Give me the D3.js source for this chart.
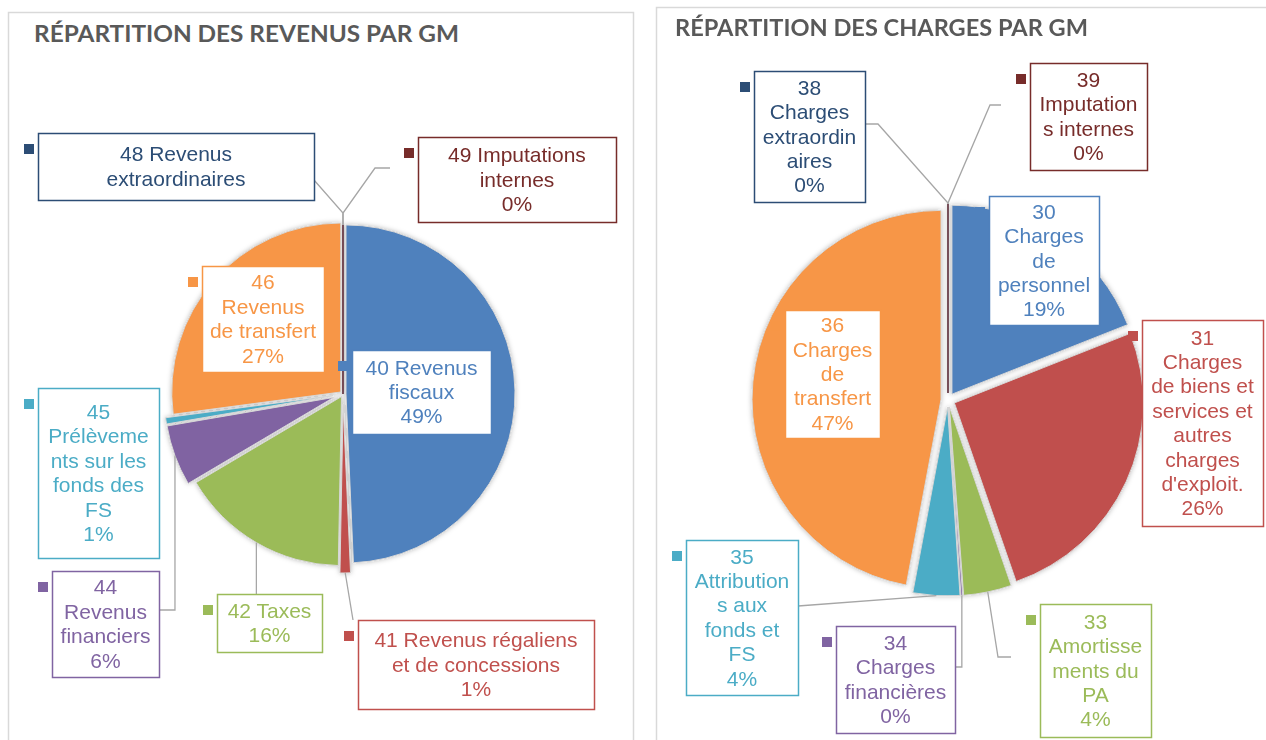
<!DOCTYPE html>
<html>
<head>
<meta charset="utf-8">
<script src="https://cdn.jsdelivr.net/npm/d3@7"></script>
<style>
  html, body { margin: 0; padding: 0; background: #fff; }
  svg { display: block; }
</style>
</head>
<body>
<svg id="chart" width="1266" height="740"></svg>
<script>
// --- data: revenus par groupe de matières ---
const revenueCodes = ['40', '41', '42', '44', '45', '46', '48', '49'];
const revenueNames = ['Revenus fiscaux', 'Revenus régaliens et de concessions', 'Taxes',
  'Revenus financiers', 'Prélèvements sur les fonds des FS', 'Revenus de transfert',
  'Revenus extraordinaires', 'Imputations internes'];
const revenueValues = [49.3, 1.0, 16.2, 5.8, 0.6, 27.1, 0, 0];

// --- data: charges par groupe de matières ---
const chargeCodes = ['30', '31', '33', '34', '35', '36', '38', '39'];
const chargeNames = ['Charges de personnel', "Charges de biens et services et autres charges d'exploit.",
  'Amortissements du PA', 'Charges financières', 'Attributions aux fonds et FS',
  'Charges de transfert', 'Charges extraordinaires', 'Imputations internes'];
const chargeValues = [19.0, 25.7, 4.1, 0.15, 4.0, 47.05, 0, 0];

const titles = ['RÉPARTITION DES REVENUS PAR GM', 'RÉPARTITION DES CHARGES PAR GM'];

// office 2010 palette, same order for both charts
const palette = ['#4f81bd', '#c0504d', '#9bbb59', '#8064a2', '#4bacc6', '#f79646', '#2c4d75', '#772c2a'];

// label layout (wrapped lines, box, leader elbows); null x = x of the slice anchor
const revenueLabels = [
  {lines: ['40 Revenus', 'fiscaux'], box: [352, 350, 139, 84], explode: 3},
  {lines: ['41 Revenus régaliens', 'et de concessions'], box: [358, 620, 236, 89], explode: 10, leader: [[353, 620]]},
  {lines: ['42 Taxes'], box: [217, 594, 105, 58], explode: 3, leader: [[null, 594]]},
  {lines: ['44', 'Revenus', 'financiers'], box: [52, 571, 107, 106], explode: 10, leader: [[160, 610], [null, 610]]},
  {lines: ['45', 'Prélèveme', 'nts sur les', 'fonds des', 'FS'], box: [38, 388, 121, 170], explode: 10},
  {lines: ['46', 'Revenus', 'de transfert'], box: [202, 266, 122, 106], explode: 3},
  {lines: ['48 Revenus', 'extraordinaires'], box: [38, 133, 276, 67], explode: 0, noPct: true, leader: [[314, 180], [null, 213]]},
  {lines: ['49 Imputations', 'internes'], box: [418, 137, 198, 85], explode: 0, leader: [[390, 168], [375, 168], [null, 213]]}
];

const chargeLabels = [
  {lines: ['30', 'Charges', 'de', 'personnel'], box: [989, 196, 110, 129], explode: 7},
  {lines: ['31', 'Charges', 'de biens et', 'services et', 'autres', 'charges', "d'exploit."], box: [1142, 320, 121, 206], explode: 7},
  {lines: ['33', 'Amortisse', 'ments du', 'PA'], box: [1040, 604, 111, 133], explode: 7, leader: [[1011, 657], [998, 657]]},
  {lines: ['34', 'Charges', 'financières'], box: [836, 626, 119, 107], explode: 7, leader: [[955, 667], [null, 667]]},
  {lines: ['35', 'Attribution', 's aux', 'fonds et', 'FS'], box: [686, 540, 112, 155], explode: 7, leader: [[798, 606]]},
  {lines: ['36', 'Charges', 'de', 'transfert'], box: [785, 310, 95, 128], explode: 7},
  {lines: ['38', 'Charges', 'extraordin', 'aires'], box: [754, 71, 111, 131], explode: 7, leader: [[866, 124], [878, 124], [null, 203]]},
  {lines: ['39', 'Imputation', 's internes'], box: [1030, 63, 117, 107], explode: 7, leader: [[1001, 105], [990, 105], [null, 203]]}
];

const svg = d3.select('#chart');

const defs = svg.append('defs');
defs.append('filter')
    .attr('id', 'shadow')
    .attr('x', '-20%').attr('y', '-20%').attr('width', '140%').attr('height', '140%')
  .append('feDropShadow')
    .attr('dx', 0).attr('dy', 0)
    .attr('stdDeviation', 2.5)
    .attr('flood-color', '#000')
    .attr('flood-opacity', 0.28);

const fontText = '"Liberation Sans", Arial, sans-serif';
const lineH = 24.4;

function drawPie(cfg) {
  const {panel, title, titlePos, titleLen, cx, cy, r, values, labels} = cfg;

  svg.append('rect')
      .attr('x', panel[0]).attr('y', panel[1])
      .attr('width', panel[2]).attr('height', panel[3])
      .attr('fill', '#fff')
      .attr('stroke', '#d9d9d9')
      .attr('stroke-width', 1.5);

  svg.append('text')
      .attr('x', titlePos[0]).attr('y', titlePos[1])
      .attr('font-family', 'Lato, "Open Sans", sans-serif')
      .attr('font-weight', 'bold')
      .attr('font-size', 23.5)
      .attr('fill', '#595959')
      .attr('textLength', titleLen)
      .attr('lengthAdjust', 'spacingAndGlyphs')
      .text(title);

  const total = d3.sum(values);
  const arcs = d3.pie().sort(null).value(d => d)(values);
  const arc = d3.arc().innerRadius(0).outerRadius(r);

  const mid = d => (d.startAngle + d.endAngle) / 2;
  const shift = (d, e) => [Math.sin(mid(d)) * e, -Math.cos(mid(d)) * e];

  const g = svg.append('g').attr('transform', `translate(${cx},${cy})`);

  g.append('g')
      .attr('filter', 'url(#shadow)')
    .selectAll('path')
    .data(arcs)
    .join('path')
      .attr('transform', (d, i) => `translate(${shift(d, labels[i].explode)})`)
      .attr('d', arc)
      .attr('fill', (d, i) => palette[i])
      .attr('stroke', (d, i) => d.value === 0 ? palette[i] : '#d6d6d6')
      .attr('stroke-width', (d, i) => d.value === 0 ? 1.2 : 1);

  // leader lines
  const line = d3.line();
  arcs.forEach((d, i) => {
    const lab = labels[i];
    if (!lab.leader) return;
    const [ox, oy] = shift(d, lab.explode + r);
    const ax = cx + ox, ay = cy + oy;
    const pts = lab.leader.map(p => [p[0] === null ? ax : p[0], p[1]]);
    pts.push([ax, ay]);
    svg.append('path')
        .attr('d', line(pts))
        .attr('fill', 'none')
        .attr('stroke', '#a6a6a6')
        .attr('stroke-width', 1.3);
  });

  // data labels
  const lab = svg.append('g')
    .selectAll('g')
    .data(arcs)
    .join('g');

  lab.append('rect')
      .attr('x', (d, i) => labels[i].box[0] + 0.5)
      .attr('y', (d, i) => labels[i].box[1] + 0.5)
      .attr('width', (d, i) => labels[i].box[2])
      .attr('height', (d, i) => labels[i].box[3])
      .attr('fill', '#fff')
      .attr('stroke', (d, i) => palette[i])
      .attr('stroke-width', 1.5);

  lab.append('rect')
      .attr('x', (d, i) => labels[i].box[0] - 14)
      .attr('y', (d, i) => labels[i].box[1] + 11)
      .attr('width', 10)
      .attr('height', 10)
      .attr('fill', (d, i) => palette[i]);

  lab.each(function(d, i) {
    const L = labels[i];
    const rows = L.noPct ? L.lines.slice() : L.lines.concat([Math.round(d.value / total * 100) + '%']);
    const [bx, by, bw, bh] = L.box;
    const top = by + (bh - rows.length * lineH) / 2 + lineH / 2;
    d3.select(this).selectAll('text')
      .data(rows)
      .join('text')
        .attr('x', bx + bw / 2)
        .attr('y', (t, k) => top + k * lineH + 7)
        .attr('text-anchor', 'middle')
        .attr('font-family', fontText)
        .attr('font-size', 21)
        .attr('fill', palette[i])
        .text(t => t);
  });
}

drawPie({
  panel: [8.5, 12.5, 625, 800],
  title: titles[0], titlePos: [34, 42], titleLen: 425,
  cx: 343, cy: 394, r: 169,
  values: revenueValues, labels: revenueLabels
});

drawPie({
  panel: [656.5, 7.5, 640, 800],
  title: titles[1], titlePos: [675, 36], titleLen: 413,
  cx: 948, cy: 400, r: 189,
  values: chargeValues, labels: chargeLabels
});
</script>
</body>
</html>
